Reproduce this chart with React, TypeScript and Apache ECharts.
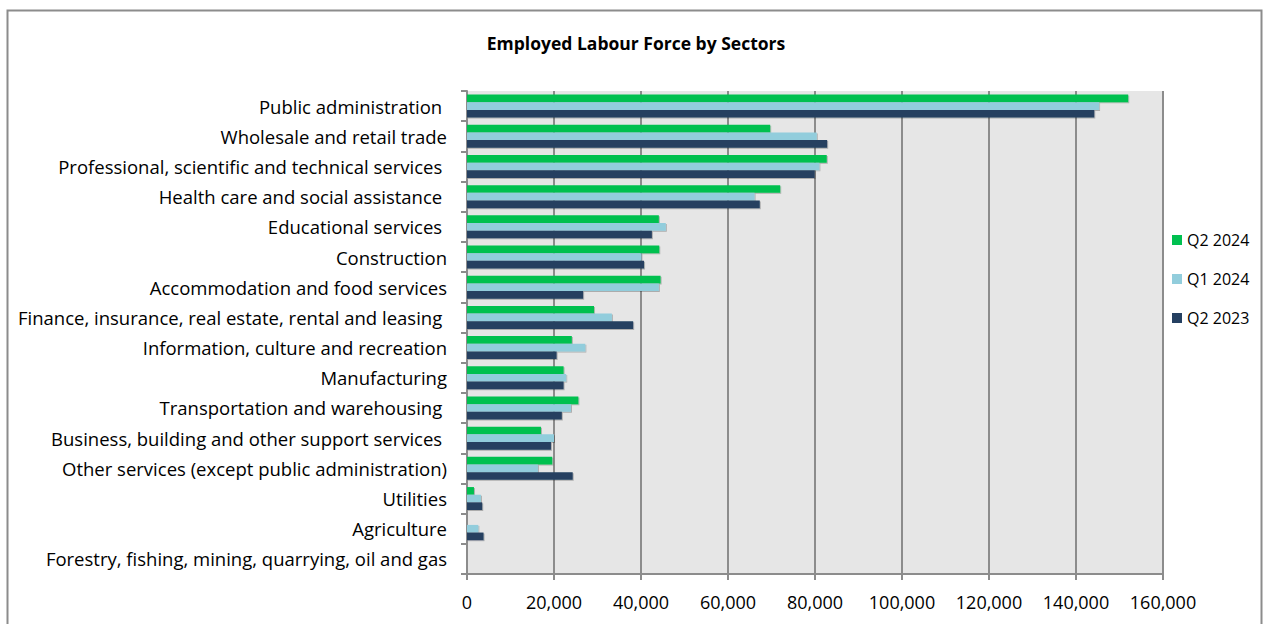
import React, { useEffect, useRef } from "react";
import * as echarts from "echarts";

const categories = [
  "Public administration ",
  "Wholesale and retail trade",
  "Professional, scientific and technical services ",
  "Health care and social assistance ",
  "Educational services ",
  "Construction",
  "Accommodation and food services",
  "Finance, insurance, real estate, rental and leasing ",
  "Information, culture and recreation",
  "Manufacturing",
  "Transportation and warehousing ",
  "Business, building and other support services ",
  "Other services (except public administration)",
  "Utilities",
  "Agriculture",
  "Forestry, fishing, mining, quarrying, oil and gas",
];

const seriesNames = ["Q2 2024", "Q1 2024", "Q2 2023"];

const q2_2024 = [152000, 69700, 82700, 72000, 44100, 44200, 44500, 29200, 24100, 22200, 25600, 17000, 19600, 1600, null, null];
const q1_2024 = [145300, 80400, 81000, 66100, 45700, 40100, 44100, 33300, 27200, 22800, 23900, 20000, 16300, 3200, 2600, null];
const q2_2023 = [144200, 82800, 79900, 67300, 42500, 40700, 26700, 38200, 20600, 22200, 21800, 19300, 24300, 3500, 3800, null];

const xTicks = [0, 20000, 40000, 60000, 80000, 100000, 120000, 140000, 160000];

const colors = ["#00c050", "#92cddc", "#254061"];
const FONT = "'Open Sans', 'Noto Sans', sans-serif";

export default function App() {
  const ref = useRef<HTMLDivElement>(null);
  useEffect(() => {
    if (!ref.current) return;
    const chart = echarts.init(ref.current, undefined, { renderer: "svg" });
    const values = [q2_2024, q1_2024, q2_2023];
    chart.setOption({
      animation: false,
      backgroundColor: "#ffffff",
      textStyle: { fontFamily: FONT },
      title: {
        text: "Employed Labour Force by Sectors",
        left: 631,
        textAlign: "center",
        top: 29,
        textStyle: { fontFamily: FONT, fontWeight: "bold", fontSize: 17.5, color: "#000" },
      },
      graphic: [
        {
          type: "rect",
          shape: { x: 7.5, y: 10.5, width: 1254, height: 640 },
          style: { fill: "none", stroke: "#8c8c8c", lineWidth: 2 },
          silent: true,
          z: 100,
        },
      ],
      legend: {
        orient: "vertical",
        left: 1167,
        top: 227,
        itemWidth: 10,
        itemHeight: 10,
        itemGap: 23,
        icon: "rect",
        data: seriesNames,
        textStyle: { fontFamily: FONT, fontSize: 16, color: "#000" },
      },
      grid: {
        left: 467,
        top: 91,
        width: 696,
        height: 483,
        show: true,
        backgroundColor: "#e6e6e6",
        borderWidth: 0,
      },
      xAxis: {
        type: "value",
        min: xTicks[0],
        max: xTicks[xTicks.length - 1],
        interval: xTicks[1] - xTicks[0],
        axisLine: { show: true, lineStyle: { color: "#8c8c8c", width: 2 } },
        axisTick: { show: true, length: 6, lineStyle: { color: "#8c8c8c", width: 2 } },
        splitLine: { show: true, lineStyle: { color: "#8c8c8c", width: 2 } },
        axisLabel: {
          fontFamily: FONT,
          fontSize: 18,
          color: "#000",
          margin: 19,
          formatter: (v: number) => v.toLocaleString("en-US"),
        },
      },
      yAxis: {
        type: "category",
        inverse: true,
        data: categories,
        axisLine: { show: true, lineStyle: { color: "#8c8c8c", width: 2 } },
        axisTick: { show: true, length: 6, lineStyle: { color: "#8c8c8c", width: 2 } },
        axisLabel: {
          fontFamily: FONT,
          fontSize: 18.5,
          color: "#000",
          margin: 20,
          interval: 0,
          padding: [0, 0, 4, 0],
        },
      },
      series: seriesNames.map((name, i) => ({
        name,
        type: "bar",
        data: values[i],
        barGap: "0%",
        barCategoryGap: "24%",
        itemStyle: {
          color: colors[i],
          shadowColor: "rgba(0,0,0,0.25)",
          shadowOffsetX: 1,
          shadowOffsetY: 1,
          shadowBlur: 1,
        },
      })),
    });
    return () => chart.dispose();
  }, []);
  return (
    <div
      ref={ref}
      style={{ position: "fixed", left: 0, top: 0, width: 1263, height: 624 }}
    />
  );
}
